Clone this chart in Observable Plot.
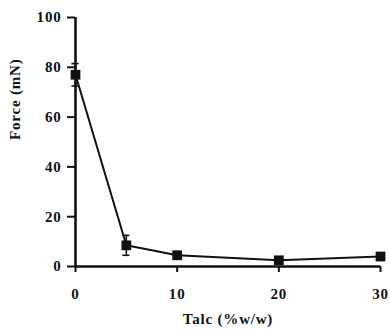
<!DOCTYPE html>
<html><head><meta charset="utf-8">
<script src="https://cdn.jsdelivr.net/npm/d3@7"></script>
<script src="https://cdn.jsdelivr.net/npm/@observablehq/plot@0.6"></script>
<style>body{margin:0;background:#fff}</style>
</head><body><div id="chart"></div>
<script>
const talc = [0, 5, 10, 20, 30];
const force = [77, 8.5, 4.5, 2.5, 4];
const sd = [4.5, 4, 1.5, 1, 1.5];
const xTicks = [0, 10, 20, 30];
const yTicks = [0, 20, 40, 60, 80, 100];
const xTitle = "Talc (%w/w)";
const yTitle = "Force (mN)";

const data = talc.map((t, i) => ({talc: t, force: force[i], lo: force[i] - sd[i], hi: force[i] + sd[i]}));
const ink = "#111";

const chart = Plot.plot({
  width: 390, height: 330,
  marginLeft: 75, marginRight: 10, marginTop: 17, marginBottom: 64,
  style: {fontFamily: "'Liberation Serif', serif", fontWeight: "bold", fontSize: "14px", background: "#fff", color: ink, letterSpacing: "0.8px"},
  x: {domain: [0, 30]},
  y: {domain: [0, 100]},
  marks: [
    Plot.axisY({ticks: yTicks, tickSize: 8, tickPadding: 6, strokeWidth: 2, label: null, fontSize: 15, fontWeight: "bold", fill: ink}),
    Plot.axisX({ticks: xTicks, tickSize: 6, tickPadding: 16, strokeWidth: 2, label: null, fontSize: 15, fontWeight: "bold", fill: ink}),
    Plot.ruleX([0], {stroke: ink, strokeWidth: 2.6}),
    Plot.ruleY([0], {stroke: ink, strokeWidth: 2.6}),
    Plot.ruleX(data, {x: "talc", y1: "lo", y2: "hi", stroke: ink, strokeWidth: 1.6}),
    Plot.ruleY(data, {y: "hi", x1: d => d.talc - 0.35, x2: d => d.talc + 0.35, stroke: ink, strokeWidth: 1.6}),
    Plot.ruleY(data, {y: "lo", x1: d => d.talc - 0.35, x2: d => d.talc + 0.35, stroke: ink, strokeWidth: 1.6}),
    Plot.line(data, {x: "talc", y: "force", stroke: ink, strokeWidth: 2}),
    Plot.dot(data, {x: "talc", y: "force", symbol: "square", r: 5.5, fill: ink, stroke: "none"}),
    Plot.text([xTitle], {frameAnchor: "bottom", dy: 57, fontSize: 15, fontWeight: "bold", fill: ink}),
    Plot.text([yTitle], {frameAnchor: "left", dx: -60, dy: -2, rotate: -90, fontSize: 15, fontWeight: "bold", fill: ink})
  ]
});
document.getElementById("chart").append(chart);
</script>
</body></html>
